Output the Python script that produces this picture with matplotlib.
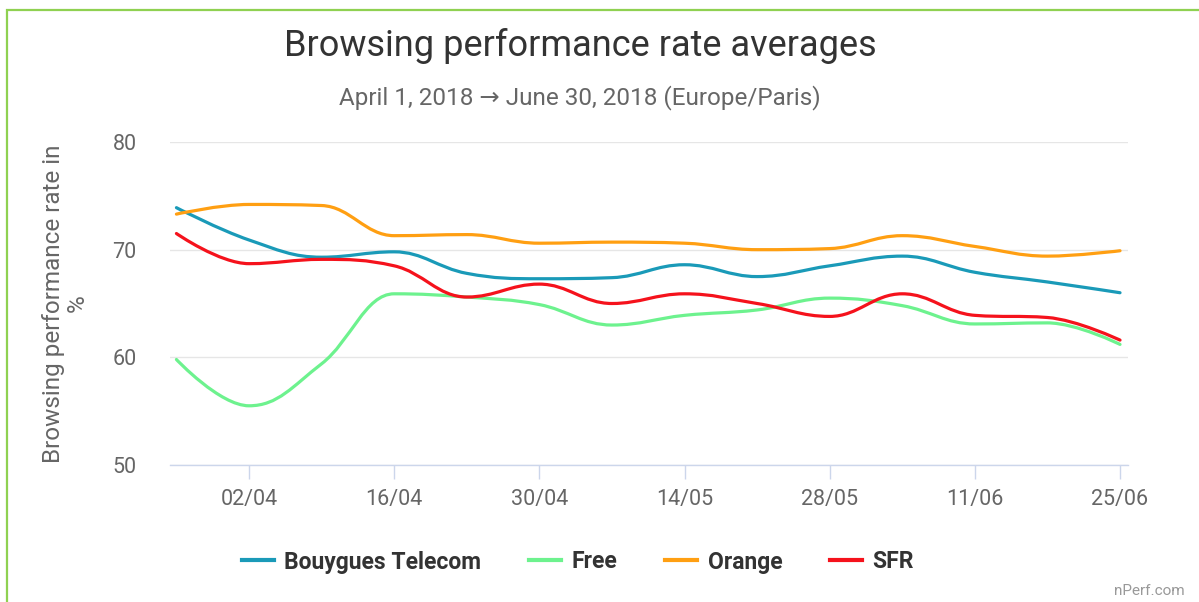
import numpy as np
import pandas as pd
import matplotlib
matplotlib.use("Agg")
from matplotlib import pyplot as plt
import matplotlib.dates as mdates
from matplotlib.path import Path
from matplotlib.patches import PathPatch, Rectangle
from matplotlib.lines import Line2D

# %% data (weekly averages)
dates = pd.to_datetime(['2018-03-26', '2018-04-02', '2018-04-09', '2018-04-16',
                        '2018-04-23', '2018-04-30', '2018-05-07', '2018-05-14',
                        '2018-05-21', '2018-05-28', '2018-06-04', '2018-06-11',
                        '2018-06-18', '2018-06-25'])
bouygues = [73.9, 70.9, 69.3, 69.8, 67.8, 67.3, 67.4, 68.6, 67.5, 68.5, 69.4, 67.9, 67.0, 66.0]
free     = [59.8, 55.5, 59.4, 65.9, 65.6, 64.9, 63.0, 63.9, 64.4, 65.5, 64.8, 63.1, 63.2, 61.2]
orange   = [73.3, 74.2, 74.1, 71.3, 71.4, 70.6, 70.7, 70.6, 70.0, 70.1, 71.3, 70.3, 69.4, 69.9]
sfr      = [71.5, 68.7, 69.1, 68.5, 65.6, 66.8, 65.0, 65.9, 65.0, 63.8, 65.9, 63.9, 63.7, 61.6]

operators = ['Bouygues Telecom', 'Free', 'Orange', 'SFR']
series = [bouygues, free, orange, sfr]
colors = ['#1a9ab8', '#6df28e', '#ff9f12', '#f5121c']

tick_dates = pd.to_datetime(['2018-04-02', '2018-04-16', '2018-04-30', '2018-05-14',
                             '2018-05-28', '2018-06-11', '2018-06-25'])


#%% spline path (highcharts-like bezier through the points)
def spline_path(xs, ys, smoothing=1.5):
    xs = np.asarray(xs, float)
    ys = np.asarray(ys, float)
    verts = [(xs[0], ys[0])]
    codes = [Path.MOVETO]
    denom = smoothing + 1
    n = len(xs)
    ctrl = []
    for i in range(n):
        if i == 0 or i == n - 1:
            ctrl.append(((xs[i], ys[i]), (xs[i], ys[i])))
            continue
        lx = (smoothing * xs[i] + xs[i - 1]) / denom
        ly = (smoothing * ys[i] + ys[i - 1]) / denom
        rx = (smoothing * xs[i] + xs[i + 1]) / denom
        ry = (smoothing * ys[i] + ys[i + 1]) / denom
        corr = ((ry - ly) * (rx - xs[i])) / (rx - lx) + ys[i] - ry
        ly += corr
        ry += corr
        if ly > ys[i - 1] and ly > ys[i]:
            ly = max(ys[i - 1], ys[i]); ry = 2 * ys[i] - ly
        elif ly < ys[i - 1] and ly < ys[i]:
            ly = min(ys[i - 1], ys[i]); ry = 2 * ys[i] - ly
        if ry > ys[i + 1] and ry > ys[i]:
            ry = max(ys[i + 1], ys[i]); ly = 2 * ys[i] - ry
        elif ry < ys[i + 1] and ry < ys[i]:
            ry = min(ys[i + 1], ys[i]); ly = 2 * ys[i] - ry
        ctrl.append(((lx, ly), (rx, ry)))
    for i in range(1, n):
        verts += [ctrl[i - 1][1], ctrl[i][0], (xs[i], ys[i])]
        codes += [Path.CURVE4] * 3
    return Path(verts, codes)


plt.rcParams['font.family'] = ['Roboto', 'DejaVu Sans']

fig = plt.figure(figsize=(11.99, 6.02), dpi=100)
fig.patches.append(Rectangle((7 / 1199, -0.1), 1.2, 1 - 10 / 602 + 0.1,
                             transform=fig.transFigure, fill=False,
                             edgecolor='#8fd151', linewidth=1.6))

ax = fig.add_axes([170 / 1199, 137 / 602, 958 / 1199, 323 / 602])

xnum = mdates.date2num(dates)
for vals, col, name in zip(series, colors, operators):
    ax.add_patch(PathPatch(spline_path(xnum, vals), fill=False, edgecolor=col,
                           linewidth=2.3, capstyle='round', joinstyle='round', zorder=3))

x0 = mdates.date2num(pd.Timestamp('2018-04-02')) - 7.62
x1 = mdates.date2num(pd.Timestamp('2018-06-25')) + 0.77
ax.set_xlim(x0, x1)
ax.set_ylim(50, 80)

ax.set_yticks([50, 60, 70, 80])
ax.set_xticks(mdates.date2num(tick_dates))
ax.set_xticklabels([d.strftime('%d/%m') for d in tick_dates])
ax.grid(axis='y', color='#e6e6e6', linewidth=1)
ax.set_axisbelow(True)
for s in ['top', 'right', 'left']:
    ax.spines[s].set_visible(False)
ax.spines['bottom'].set_color('#ccd6eb')
ax.spines['bottom'].set_linewidth(1)
ax.tick_params(axis='x', colors='#666666', labelsize=15.5, length=10, width=1,
               color='#ccd6eb', pad=7)
ax.tick_params(axis='y', colors='#666666', labelsize=15.5, length=0, pad=24)

ax.set_ylabel('Browsing performance rate in\n%', fontsize=17.5, color='#666666',
              linespacing=1.05, labelpad=17)

fig.text(580 / 1199, 1 - 46 / 602, 'Browsing performance rate averages',
         ha='center', va='center', fontsize=26, color='#333333')
fig.text(580 / 1199, 1 - 98 / 602, 'April 1, 2018 \u2192 June 30, 2018 (Europe/Paris)',
         ha='center', va='center', fontsize=17.5, color='#666666')

handles = [Line2D([], [], color=c, linewidth=3) for c in colors]
leg = fig.legend(handles, operators, loc='center', ncol=4,
                 bbox_to_anchor=(578 / 1199, 1 - 562 / 602), frameon=False,
                 handlelength=1.4, handletextpad=0.44, columnspacing=2.1,
                 prop={'size': 16.5, 'weight': 'bold'})
for t in leg.get_texts():
    t.set_color('#333333')

fig.text(1185 / 1199, 1 - 591 / 602, 'nPerf.com', ha='right', va='center',
         fontsize=11, color='#999999')

fig.savefig('out.png', dpi=100)
